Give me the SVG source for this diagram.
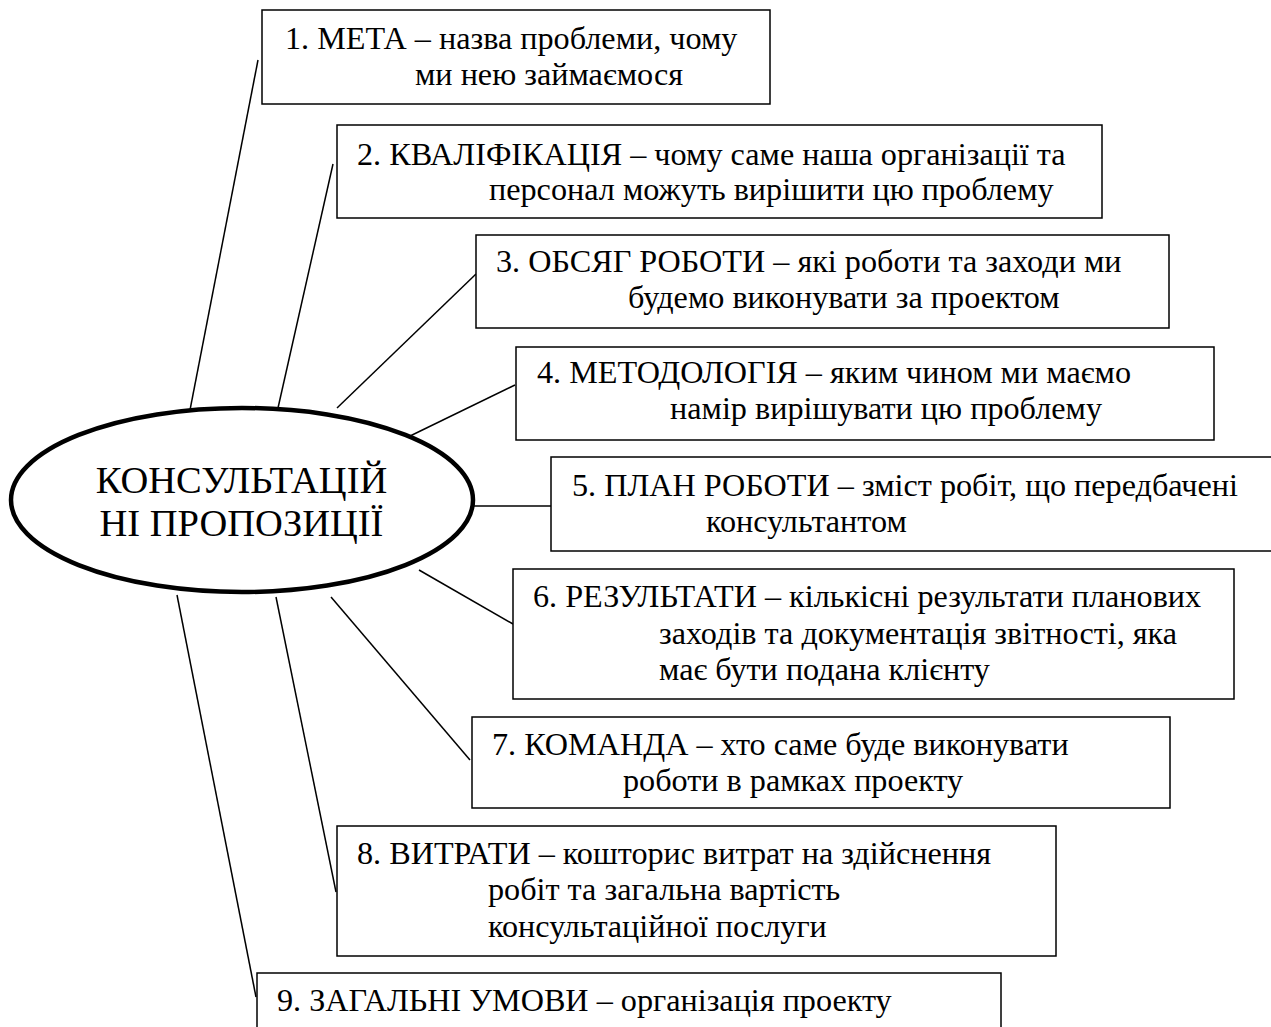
<svg xmlns="http://www.w3.org/2000/svg" width="1271" height="1027" viewBox="0 0 1271 1027">
<style>
.box{fill:#fff;stroke:#000;stroke-width:1.5}
.ln{stroke:#000;stroke-width:1.5;fill:none}
</style>
<rect width="1271" height="1027" fill="#fff"/>
<g id="connectors">
<line class="ln" x1="190" y1="410" x2="258" y2="60"/>
<line class="ln" x1="278" y1="408" x2="333" y2="164"/>
<line class="ln" x1="337" y1="408" x2="476" y2="274"/>
<line class="ln" x1="408" y1="437" x2="515" y2="385"/>
<line class="ln" x1="466" y1="506" x2="551" y2="506"/>
<line class="ln" x1="419" y1="570" x2="513" y2="624"/>
<line class="ln" x1="331" y1="597" x2="470" y2="760"/>
<line class="ln" x1="276" y1="597" x2="336" y2="892"/>
<line class="ln" x1="177" y1="595" x2="256" y2="997"/>
</g>
<g id="center">
<ellipse cx="242" cy="500" rx="231" ry="92" fill="#fff" stroke="#000" stroke-width="4.5"/>
<text x="241.5" y="493" font-family="Liberation Serif" font-size="38.5" text-anchor="middle">КОНСУЛЬТАЦІЙ</text>
<text x="241.5" y="536" font-family="Liberation Serif" font-size="38.5" text-anchor="middle">НІ ПРОПОЗИЦІЇ</text>
</g>
<g id="n1">
<rect class="box" x="262" y="10" width="508" height="94"/>
<text x="285" y="49" font-family="Liberation Serif" font-size="32.2">1. МЕТА – назва проблеми, чому</text>
<text x="415" y="85" font-family="Liberation Serif" font-size="32.2">ми нею займаємося</text>
</g>
<g id="n2">
<rect class="box" x="337" y="125" width="765" height="93"/>
<text x="357" y="165" font-family="Liberation Serif" font-size="32.2">2. КВАЛІФІКАЦІЯ – чому саме наша організації та</text>
<text x="489" y="200" font-family="Liberation Serif" font-size="32.2">персонал можуть вирішити цю проблему</text>
</g>
<g id="n3">
<rect class="box" x="476" y="235" width="693" height="93"/>
<text x="496" y="272" font-family="Liberation Serif" font-size="32.2">3. ОБСЯГ РОБОТИ – які роботи та заходи ми</text>
<text x="628" y="308" font-family="Liberation Serif" font-size="32.2">будемо виконувати за проектом</text>
</g>
<g id="n4">
<rect class="box" x="516" y="347" width="698" height="93"/>
<text x="537" y="383" font-family="Liberation Serif" font-size="32.2">4. МЕТОДОЛОГІЯ – яким чином ми маємо</text>
<text x="670" y="419" font-family="Liberation Serif" font-size="32.2">намір вирішувати цю проблему</text>
</g>
<g id="n5">
<rect class="box" x="551" y="457" width="725" height="94"/>
<text x="572" y="496" font-family="Liberation Serif" font-size="32.2">5. ПЛАН РОБОТИ – зміст робіт, що передбачені</text>
<text x="706" y="532" font-family="Liberation Serif" font-size="32.2">консультантом</text>
</g>
<g id="n6">
<rect class="box" x="513" y="569" width="721" height="130"/>
<text x="533" y="607" font-family="Liberation Serif" font-size="32.2">6. РЕЗУЛЬТАТИ – кількісні результати планових</text>
<text x="659" y="644" font-family="Liberation Serif" font-size="32.2">заходів та документація звітності, яка</text>
<text x="659" y="680" font-family="Liberation Serif" font-size="32.2">має бути подана клієнту</text>
</g>
<g id="n7">
<rect class="box" x="472" y="717" width="698" height="91"/>
<text x="492" y="755" font-family="Liberation Serif" font-size="32.2">7. КОМАНДА – хто саме буде виконувати</text>
<text x="623" y="791" font-family="Liberation Serif" font-size="32.2">роботи в рамках проекту</text>
</g>
<g id="n8">
<rect class="box" x="337" y="826" width="719" height="130"/>
<text x="357" y="864" font-family="Liberation Serif" font-size="32.2">8. ВИТРАТИ – кошторис витрат на здійснення</text>
<text x="488" y="900" font-family="Liberation Serif" font-size="32.2">робіт та загальна вартість</text>
<text x="488" y="937" font-family="Liberation Serif" font-size="32.2">консультаційної послуги</text>
</g>
<g id="n9">
<rect class="box" x="257" y="973" width="744" height="80"/>
<text x="277" y="1011" font-family="Liberation Serif" font-size="32.2">9. ЗАГАЛЬНІ УМОВИ – організація проекту</text>
</g>
</svg>
